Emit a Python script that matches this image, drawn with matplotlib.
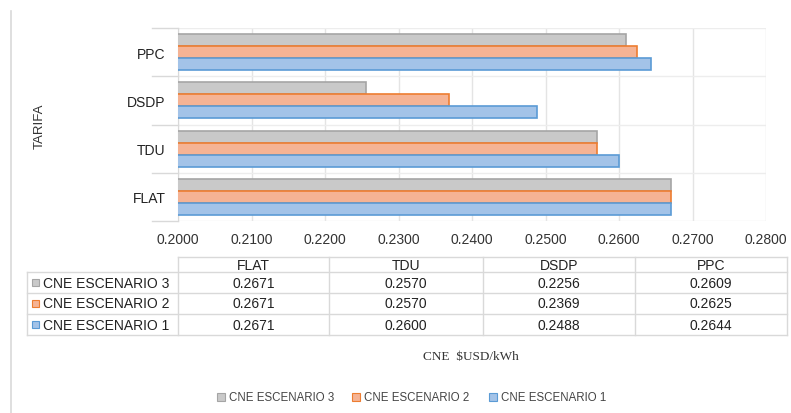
import numpy as np
import matplotlib
matplotlib.use("Agg")
import matplotlib.pyplot as plt
from matplotlib.patches import Rectangle
from matplotlib.lines import Line2D

plt.rcParams["font.family"] = ["Liberation Sans", "DejaVu Sans"]
plt.rcParams["font.size"] = 10

tarifas = ["FLAT", "TDU", "DSDP", "PPC"]
series = ["CNE ESCENARIO 3", "CNE ESCENARIO 2", "CNE ESCENARIO 1"]
esc3 = [0.2671, 0.2570, 0.2256, 0.2609]
esc2 = [0.2671, 0.2570, 0.2369, 0.2625]
esc1 = [0.2671, 0.2600, 0.2488, 0.2644]
values = [esc3, esc2, esc1]

fills = ["#C9C9C9", "#F5B394", "#A3C3E8"]
edges = ["#A5A5A5", "#ED7D31", "#5B9BD5"]
offsets = [0.25, 0.0, -0.25]

W, H = 791, 414
fig = plt.figure(figsize=(W / 100, H / 100), dpi=100)

def fx(px):
    return px / W

def fy(py):
    return 1 - py / H

ax = fig.add_axes([fx(178), fy(222), fx(766) - fx(178), fy(29) - fy(222)])

y = np.arange(len(tarifas))
for vals, off, fc, ec in zip(values, offsets, fills, edges):
    ax.barh(y + off, vals, height=0.25, color=fc, edgecolor=ec, linewidth=1.2, zorder=3)

ax.set_xlim(0.2, 0.28)
ax.set_ylim(-0.5, 3.5)
ax.set_xticks(np.arange(0.20, 0.2801, 0.01))
ax.set_xticklabels([f"{v:.4f}" for v in np.arange(0.20, 0.2801, 0.01)], fontsize=10, color="#333333")
ax.set_yticks(y)
ax.set_yticklabels(tarifas, fontsize=10, color="#222222")
ax.set_yticks(np.arange(-0.5, 3.6, 0.5), minor=True)
ax.tick_params(axis="y", which="major", length=0, pad=9)
ax.tick_params(axis="y", which="minor", length=0)
ax.tick_params(axis="x", length=0, pad=8)

ax.grid(True, axis="x", color="#E4E4E4", linewidth=1.0, zorder=0)
ax.grid(True, axis="y", which="minor", color="#EDEDED", linewidth=1.0, zorder=0)
for s in ["top", "right", "bottom"]:
    ax.spines[s].set_visible(False)
ax.spines["left"].set_color("#D9D9D9")
for b in np.arange(-0.5, 3.6, 1.0):
    ax.plot([-0.0035 + 0.2, 0.2], [b, b], color="#D9D9D9", lw=1, clip_on=False, transform=ax.transData)

# chart border on the left
fig.add_artist(Line2D([fx(11), fx(11)], [fy(12), 0], color="#D9D9D9", lw=1.2))

fig.text(fx(40), fy(126), "TARIFA", rotation=90, ha="center", va="center", fontsize=9.5, color="#333333")

# data table
grid_c = "#D9D9D9"
col_x = [178, 329, 483, 635, 787]
row_y = [258, 273, 294, 315, 336]
fig.add_artist(Line2D([fx(178), fx(787)], [fy(258), fy(258)], color=grid_c, lw=1))
for ry in row_y[1:]:
    fig.add_artist(Line2D([fx(27), fx(787)], [fy(ry), fy(ry)], color=grid_c, lw=1))
for cx in col_x:
    fig.add_artist(Line2D([fx(cx), fx(cx)], [fy(258), fy(336)], color=grid_c, lw=1))
fig.add_artist(Line2D([fx(27), fx(27)], [fy(273), fy(336)], color=grid_c, lw=1))

for j, t in enumerate(tarifas):
    cx = (col_x[j] + col_x[j + 1]) / 2
    fig.text(fx(cx), fy(266), t, ha="center", va="center", fontsize=10, color="#222222")
for i, (name, vals) in enumerate(zip(series, values)):
    cy = (row_y[i + 1] + row_y[i + 2]) / 2
    fig.add_artist(Rectangle((fx(32), fy(cy + 3.5)), fx(7), fy(0) - fy(7),
                             facecolor=fills[i], edgecolor=edges[i], lw=0.8))
    fig.text(fx(43), fy(cy), name, ha="left", va="center", fontsize=10, color="#222222")
    for j, v in enumerate(vals):
        cx = (col_x[j] + col_x[j + 1]) / 2
        fig.text(fx(cx), fy(cy), f"{v:.4f}", ha="center", va="center", fontsize=10, color="#222222")

fig.text(fx(423), fy(357), "CNE  $USD/kWh", ha="left", va="center", fontsize=9.5,
         family=["Liberation Serif", "DejaVu Serif"], color="#333333")

# legend
leg_x = [217, 352, 489]
for i, name in enumerate(series):
    fig.add_artist(Rectangle((fx(leg_x[i]), fy(402)), fx(8), fy(0) - fy(8),
                             facecolor=fills[i], edgecolor=edges[i], lw=0.8))
    fig.text(fx(leg_x[i] + 12), fy(398), name, ha="left", va="center", fontsize=8.3,
             color="#444444")

fig.savefig("out.png", dpi=100)
